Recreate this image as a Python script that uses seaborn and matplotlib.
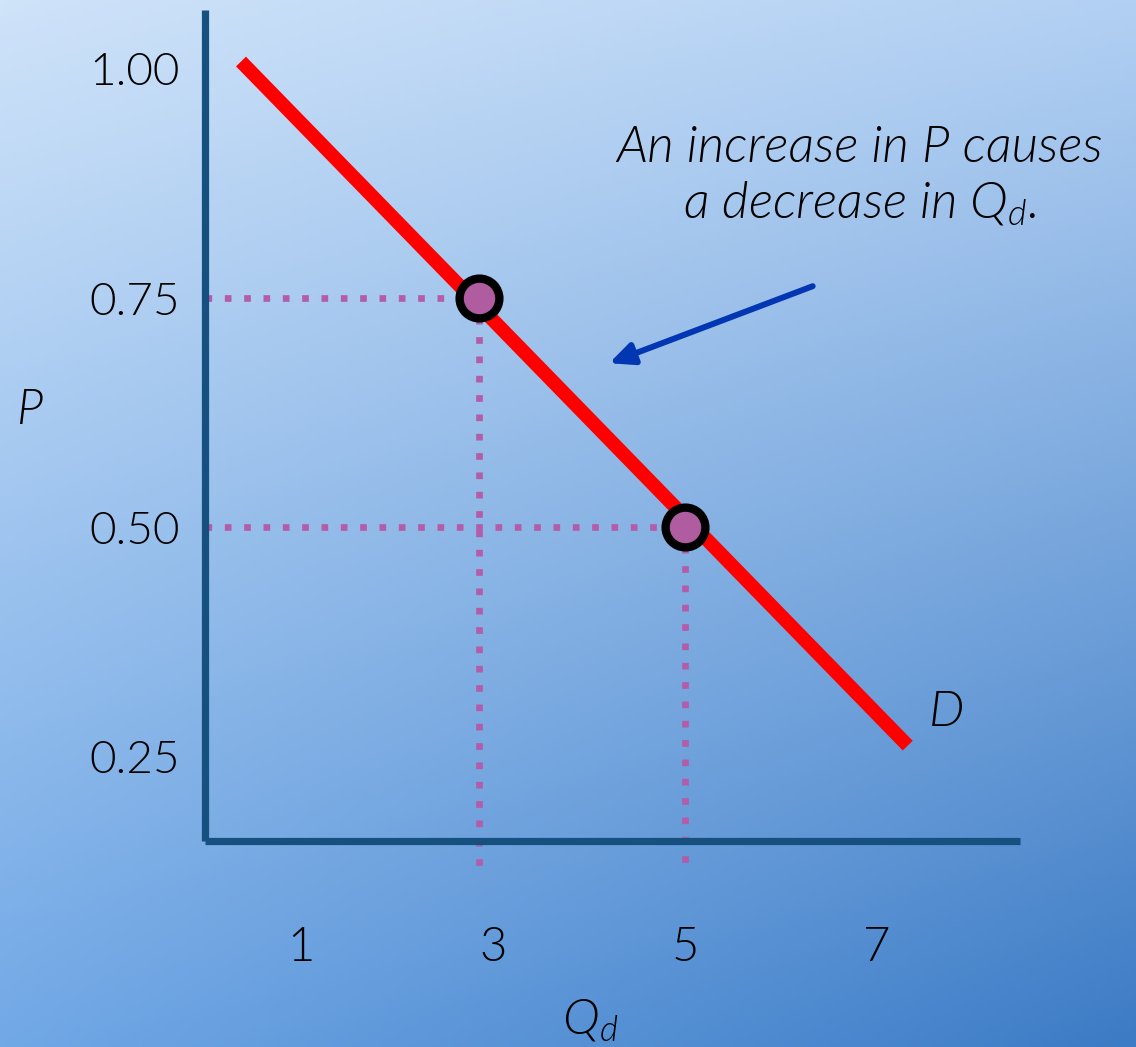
import numpy as np
import pandas as pd
import matplotlib
matplotlib.use("Agg")
import matplotlib.pyplot as plt
import seaborn as sns
from matplotlib.colors import to_rgb

# ---------------- data ----------------
demand_q = [0.375, 7.32]          # quantity demanded along the demand curve
demand_p = [1.008, 0.262]         # price along the demand curve
point_q = [2.85, 5.0]             # highlighted points
point_p = [0.75, 0.50]
x_ticks = [1, 3, 5, 7]
x_tick_labels = ["1", "3", "5", "7"]
y_ticks = [1.00, 0.75, 0.50, 0.25]
y_tick_labels = ["1.00", "0.75", "0.50", "0.25"]
arrow_start = (6.33, 0.763)
arrow_end = (4.21, 0.679)
note_text = "An increase in P causes\na decrease in Q$_\\mathregular{d}$."

sns.set_theme(style="white")
FONT = "Lato"
plt.rcParams["font.family"] = [FONT, "DejaVu Sans"]
plt.rcParams["font.weight"] = 300
plt.rcParams["text.color"] = "black"
plt.rcParams["mathtext.fontset"] = "custom"
plt.rcParams["mathtext.rm"] = FONT + ":light"
plt.rcParams["mathtext.it"] = FONT + ":light:italic"

W, H = 1136, 1047
fig = plt.figure(figsize=(W / 100, H / 100), dpi=100)

# gradient background
bg = fig.add_axes([0, 0, 1, 1], zorder=-10)
tl, tr = np.array(to_rgb("#cfe3f9")), np.array(to_rgb("#b2d0f3"))
bl, br = np.array(to_rgb("#71a8e6")), np.array(to_rgb("#3c7bc5"))
u = np.linspace(0, 1, 200)[None, :, None]
v = np.linspace(0, 1, 200)[:, None, None]
img = (1 - v) * ((1 - u) * tl + u * tr) + v * ((1 - u) * bl + u * br)
bg.imshow(np.clip(img, 0, 1), aspect="auto", extent=[0, 1, 0, 1], origin="upper")
bg.set_axis_off()

# main axes
left_px, right_px, top_px, bottom_px = 205, 1020, 10, 841
ax = fig.add_axes([left_px / W, (H - bottom_px) / H,
                   (right_px - left_px) / W, (bottom_px - top_px) / H])
ax.patch.set_alpha(0)
x_per_px = 1 / 96.0
ax.set_xlim(0, (right_px - left_px) * x_per_px)
p_per_px = 1 / 917.0
ax.set_ylim(0.625 - (bottom_px - 412.75) * p_per_px, 0.625 + (412.75 - top_px) * p_per_px)

axis_col = "#16507f"
for s in ["top", "right"]:
    ax.spines[s].set_visible(False)
for s in ["left", "bottom"]:
    ax.spines[s].set_color(axis_col)
    ax.spines[s].set_linewidth(5.2)
    ax.spines[s].set_capstyle("butt")

ax.set_xticks(x_ticks)
ax.set_xticklabels(x_tick_labels)
ax.set_yticks(y_ticks)
ax.set_yticklabels(y_tick_labels)
ax.tick_params(axis="x", length=0, pad=62, labelsize=34, labelcolor="black")
ax.tick_params(axis="y", length=0, pad=18, labelsize=33, labelcolor="black")
for lab in ax.get_xticklabels() + ax.get_yticklabels():
    lab.set_fontweight(300)

# dotted guide lines
dot_col = "#b35ca8"
dot_kw = dict(color=dot_col, lw=4.8, linestyle=(0, (1.0, 1.9)),
              dash_capstyle="butt", clip_on=False, zorder=2)
y_low = 0.625 - (868 - 412.75) * p_per_px
for q, p in zip(point_q, point_p):
    ax.plot([0.0, q], [p, p], **dot_kw)
    ax.plot([q, q], [p, y_low], **dot_kw)

# demand curve
df = pd.DataFrame({"Q": demand_q, "P": demand_p})
sns.lineplot(data=df, x="Q", y="P", ax=ax, color="#ff0000", lw=10,
             solid_capstyle="butt", zorder=3)

# highlighted points
pts = pd.DataFrame({"Q": point_q, "P": point_p})
sns.scatterplot(data=pts, x="Q", y="P", ax=ax, s=820, color="#b05ca0",
                edgecolor="black", linewidth=6, zorder=5, clip_on=False)

# arrow
ax.annotate("", xy=arrow_end, xytext=arrow_start,
            arrowprops=dict(arrowstyle="-|>,head_length=1.2,head_width=0.55",
                            color="#0336b3", lw=4.3, shrinkA=0, shrinkB=0))

# labels
txt_kw = dict(fontstyle="italic", fontweight=300, color="black")
ax.set_xlabel("")
ax.set_ylabel("")
fig.text(30 / W, 1 - 410 / H, "P", ha="center", va="center", fontsize=35, **txt_kw)
fig.text(590 / W, 1 - 1020 / H, "Q$_\\mathregular{d}$", ha="center", va="center",
         fontsize=36, **txt_kw)
fig.text(947 / W, 1 - 712 / H, "D", ha="center", va="center", fontsize=36, **txt_kw)
fig.text(860 / W, 1 - 176 / H, note_text, ha="center", va="center", fontsize=37,
         linespacing=1.2, **txt_kw)

fig.savefig("out.png", dpi=100)
